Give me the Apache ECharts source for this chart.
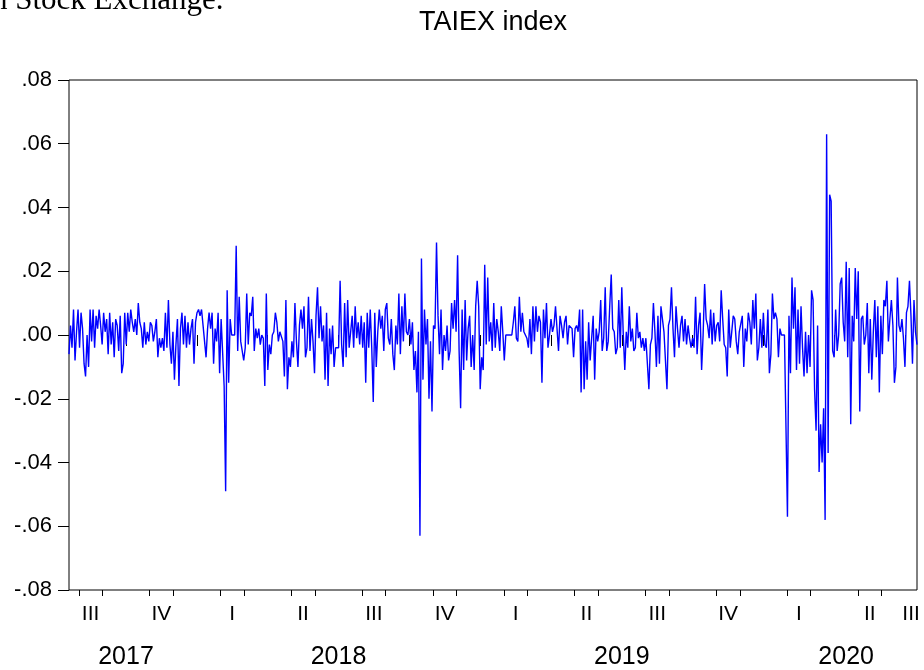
<!DOCTYPE html>
<html>
<head>
<meta charset="utf-8">
<title>TAIEX index</title>
<script src="https://cdn.jsdelivr.net/npm/echarts@6/dist/echarts.min.js"></script>
<style>
  html, body { margin: 0; padding: 0; background: #fff; }
  #chart { width: 924px; height: 670px; }
</style>
</head>
<body>
<div id="chart"></div>
<script>
  // daily returns, in date order (5-day weeks, holidays show as 0)
  // mid Jul 2017 - mid Jan 2018
  var returnsPart1 = [
    -0.006, 0.003, -0.004, 0.008, -0.008, 0.001, 0.008, -0.004, 0.007, 0.002,
    -0.009, -0.013, 0.000, -0.010, 0.008, -0.002, 0.008, -0.004, 0.006, 0.002,
    0.008, 0.003, -0.003, 0.007, 0.001, 0.005, -0.006, 0.007, -0.003, 0.004,
    -0.007, 0.005, 0.003, -0.005, 0.006, -0.012, -0.009, 0.007, -0.003, 0.007,
    0.001, 0.008, 0.004, 0.001, 0.005, 0.000, 0.010, 0.004, 0.002, -0.004,
    0.004, -0.003, 0.001, -0.002, 0.004, 0.003, -0.002, 0.001, 0.005, -0.007,
    -0.001, -0.004, -0.001, -0.005, 0.007, -0.004, 0.011, -0.003, -0.009, 0.001,
    -0.014, -0.003, 0.005, -0.016, 0.002, 0.007, -0.003, 0.006, -0.004, 0.004,
    -0.003, 0.002, 0.005, -0.009, 0.004, 0.007, 0.008, 0.006, 0.008, 0.003,
    0.003, -0.007, 0.002, 0.007, 0.002
  ];
  // mid Jan 2018 - early Jul 2018
  var returnsPart2 = [
    0.007, -0.009, 0.002, -0.002, 0.007, -0.012, 0.005, 0.005, -0.016, -0.049,
    0.014, -0.015, 0.005, 0.000, 0.000, 0.000, 0.028, -0.005, 0.012, -0.002,
    -0.002, -0.008, -0.004, 0.013, -0.003, 0.007, 0.006, 0.012, -0.005, 0.002,
    -0.001, 0.002, -0.003, 0.000, -0.001, -0.016, 0.013, -0.011, -0.003, -0.006,
    0.000, 0.001, 0.007, 0.004, -0.002, 0.001, 0.001, -0.002, -0.013, 0.011,
    -0.017, -0.007, -0.010, -0.002, -0.007, 0.010, -0.002, -0.010, 0.003, 0.008,
    0.002, 0.009, -0.007, -0.004, 0.012, -0.005, 0.005, -0.002, -0.012, 0.006,
    0.015, -0.001, 0.009, -0.002, 0.003, -0.014, 0.007, -0.016, 0.002, -0.006,
    0.003, -0.010, -0.004, -0.004, -0.004, 0.017, -0.003, -0.010, 0.010, -0.007,
    0.011, -0.004, -0.004
  ];
  // early Jul 2018 - mid Jan 2019
  var returnsPart3 = [
    0.006, -0.004, 0.009, -0.001, 0.004, -0.003, 0.006, -0.004, 0.004, -0.015,
    0.007, -0.004, 0.008, -0.004, -0.021, 0.007, -0.010, 0.001, 0.008, 0.002,
    0.006, -0.005, 0.008, 0.010, -0.001, -0.003, 0.005, -0.006, -0.011, 0.003,
    -0.003, 0.013, -0.006, 0.009, -0.002, 0.013, 0.001, 0.000, 0.005, -0.003,
    0.004, -0.011, -0.005, -0.018, 0.001, -0.063, 0.024, -0.014, 0.008, -0.003,
    0.005, -0.020, -0.002, -0.024, 0.003, 0.002, 0.029, 0.006, -0.006, 0.008,
    -0.011, 0.000, -0.005, 0.003, -0.008, -0.005, 0.010, 0.002, 0.011, 0.001,
    0.025, -0.005, -0.023, 0.008, -0.011, 0.011, -0.008, 0.002, 0.006, -0.010,
    0.000, -0.011, 0.009, 0.017, 0.009, -0.017, -0.007, -0.011, 0.022, -0.003,
    0.018, -0.002, 0.004, -0.005, 0.010
  ];
  // mid Jan 2019 - early Jul 2019
  var returnsPart4 = [
    -0.004, 0.005, 0.001, -0.005, 0.009, 0.001, -0.008, 0.000, 0.000, 0.000,
    0.000, 0.000, 0.004, 0.009, -0.001, -0.002, 0.012, 0.001, 0.007, 0.001,
    0.000, -0.001, -0.004, 0.005, -0.006, 0.009, -0.002, 0.009, 0.001, 0.006,
    0.004, -0.015, 0.008, -0.001, 0.010, -0.004, 0.000, 0.005, 0.001, 0.003,
    0.009, 0.002, -0.005, 0.006, 0.003, -0.001, 0.004, 0.006, -0.003, 0.003,
    0.003, 0.002, -0.007, 0.002, 0.003, 0.001, 0.008, -0.018, 0.008, -0.017,
    -0.002, -0.014, 0.004, -0.008, -0.008, 0.006, -0.014, 0.002, -0.002, 0.001,
    0.011, -0.005, -0.001, 0.015, -0.005, -0.002, 0.009, 0.019, 0.002, 0.001,
    -0.006, -0.004, 0.011, -0.004, 0.015, 0.000, -0.011, 0.001, -0.004, 0.009,
    -0.002, 0.002
  ];
  // early Jul 2019 - early Jan 2020
  var returnsPart5 = [
    -0.005, -0.004, 0.007, -0.001, 0.001, -0.004, -0.001, -0.005, -0.001, -0.009,
    -0.017, -0.003, -0.001, 0.010, 0.001, -0.010, 0.006, -0.009, 0.009, 0.005,
    0.001, 0.001, -0.017, 0.003, 0.005, 0.015, 0.002, -0.007, 0.009, 0.002,
    -0.004, 0.003, 0.006, -0.002, 0.005, -0.003, 0.003, -0.001, -0.004, -0.001,
    -0.004, 0.012, -0.006, 0.003, 0.007, -0.011, 0.000, 0.016, 0.005, 0.003,
    -0.001, 0.008, -0.003, 0.007, -0.002, 0.003, 0.004, -0.002, 0.014, 0.005,
    -0.003, -0.004, -0.013, 0.008, -0.004, 0.001, 0.006, 0.005, -0.002, -0.006,
    0.001, 0.001, 0.006, -0.010, 0.002, -0.002, 0.007, 0.004, -0.003, 0.011,
    0.002, 0.013, -0.008, -0.004, 0.005, -0.004, 0.007, -0.003, -0.004, 0.008,
    -0.012, -0.006, 0.013
  ];
  // early Jan 2020 - mid Jul 2020
  var returnsPart6 = [
    0.005, 0.007, 0.005, -0.007, 0.002, 0.000, 0.000, 0.000, 0.000, -0.057,
    0.006, -0.012, 0.018, 0.002, 0.015, -0.011, 0.008, -0.009, 0.009, -0.004,
    -0.013, 0.001, -0.012, 0.000, -0.010, 0.014, 0.011, -0.017, -0.030, 0.003,
    -0.043, -0.028, -0.040, -0.023, -0.058, 0.063, -0.037, 0.044, 0.042, -0.005,
    -0.007, 0.008, -0.005, 0.000, 0.016, 0.018, 0.004, -0.002, 0.023, -0.007,
    0.021, -0.028, 0.006, -0.002, 0.021, 0.005, 0.020, -0.024, 0.005, 0.006,
    -0.003, 0.000, 0.010, -0.012, 0.005, -0.014, 0.001, 0.011, -0.007, 0.009,
    -0.018, 0.006, -0.006, 0.011, 0.009, 0.017, -0.002, 0.005, 0.011, 0.003,
    -0.015, -0.010, 0.018, 0.003, 0.001, 0.005, -0.001, -0.010, 0.007, 0.009,
    0.017, 0.006, -0.009, 0.011, 0.001, -0.003
  ];

  var quarterNames = ['III', 'IV', 'I', 'II', 'III', 'IV', 'I', 'II', 'III', 'IV', 'I', 'II', 'III'];
  var yearNames = ['2017', '2018', '2019', '2020'];

  // x runs in months counted from 1 Jan 2017
  var firstMonth = 6.585;   // about 18 Jul 2017
  var lastMonth = 42.5;     // about 15 Jul 2020
  var yearPos = [9, 18, 30, 39.5];

  var returns = [].concat(returnsPart1, returnsPart2, returnsPart3,
                          returnsPart4, returnsPart5, returnsPart6);
  var step = (lastMonth - firstMonth) / (returns.length - 1);
  var lineData = returns.map(function (v, i) {
    return [firstMonth + i * step, v];
  });

  // quarter labels sit in the middle of each quarter (last one in its visible part)
  var quarterPos = quarterNames.map(function (q, k) {
    var start = 6 + 3 * k;
    var mid = start + 1.5;
    return mid > lastMonth ? (start + lastMonth) / 2 : mid;
  });
  var quarterStarts = [];
  var monthTicks = [];
  for (var m = 7; m < lastMonth; m++) {
    if (m % 3 === 0) quarterStarts.push(m);
    else monthTicks.push(m);
  }

  function pickName(names, positions, v) {
    for (var i = 0; i < positions.length; i++) {
      if (Math.abs(positions[i] - v) < 1e-6) return names[i];
    }
    return '';
  }

  var font = 'Liberation Sans, Arial, Helvetica, sans-serif';

  var option = {
    animation: false,
    backgroundColor: '#fff',
    grid: {
      left: 69, right: 7, top: 80, bottom: 80,
      show: true, borderColor: '#000', borderWidth: 1, backgroundColor: 'transparent'
    },
    graphic: [
      {
        type: 'text', x: 493, y: 9,
        style: { text: 'TAIEX index', fontFamily: font, fontSize: 27, fill: '#000',
                 align: 'center', verticalAlign: 'top' }
      },
      {
        type: 'text', x: -8, y: 1,
        style: { text: 'n Stock Exchange.', fontFamily: 'Liberation Serif, Times New Roman, serif',
                 fontSize: 31, fill: '#000', align: 'left', verticalAlign: 'middle' }
      }
    ],
    xAxis: [
      {
        type: 'value', min: firstMonth, max: lastMonth,
        axisLine: { show: false },
        splitLine: { show: false },
        axisTick: { show: true, customValues: quarterStarts, length: 11,
                    lineStyle: { color: '#000', width: 1 } },
        axisLabel: {
          customValues: quarterPos, margin: 14,
          fontFamily: font, fontSize: 21, color: '#000',
          formatter: function (v) { return pickName(quarterNames, quarterPos, v); }
        }
      },
      {
        type: 'value', min: firstMonth, max: lastMonth, position: 'bottom',
        axisLine: { show: false },
        splitLine: { show: false },
        axisTick: { show: true, customValues: monthTicks, length: 6,
                    lineStyle: { color: '#000', width: 1 } },
        axisLabel: {
          customValues: yearPos, margin: 55,
          fontFamily: font, fontSize: 25, color: '#000',
          formatter: function (v) { return pickName(yearNames, yearPos, v); }
        }
      }
    ],
    yAxis: {
      type: 'value', min: -0.08, max: 0.08, interval: 0.02,
      axisLine: { show: false },
      splitLine: { show: false },
      axisTick: { show: true, length: 11, lineStyle: { color: '#000', width: 1 } },
      axisLabel: {
        margin: 17, fontFamily: font, fontSize: 22, color: '#000',
        formatter: function (v) {
          var s = Math.abs(v).toFixed(2).slice(1);
          return (v < -1e-9 ? '-' : '') + s;
        }
      }
    },
    series: [
      {
        name: 'TAIEX index',
        type: 'line',
        xAxisIndex: 0,
        data: lineData,
        showSymbol: false,
        sampling: null,
        lineStyle: { color: '#0000ff', width: 1.4 },
        itemStyle: { color: '#0000ff' }
      }
    ]
  };

  var myChart = echarts.init(document.getElementById('chart'));
  myChart.setOption(option);
</script>
</body>
</html>
